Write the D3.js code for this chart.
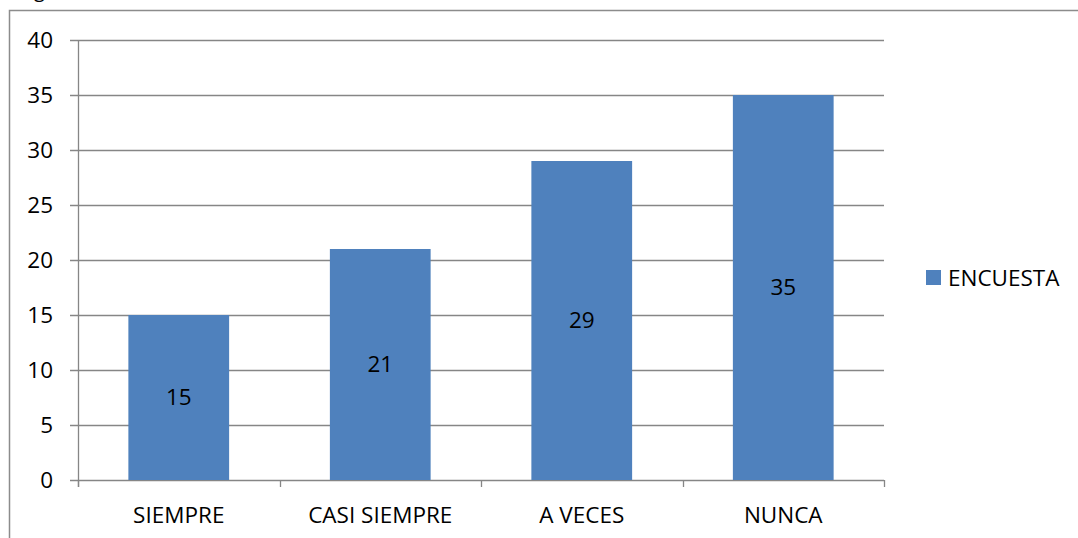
<!DOCTYPE html>
<html>
<head>
<meta charset="utf-8">
<script src="https://cdn.jsdelivr.net/npm/d3@7"></script>
<style>
	body { margin: 0; background: #fff; }
	text { font-family: "Open Sans", "Liberation Sans", sans-serif; fill: #000; }
</style>
</head>
<body>
<svg width="1078" height="538"></svg>
<script>
var categories = ["SIEMPRE", "CASI SIEMPRE", "A VECES", "NUNCA"];
var values = [15, 21, 29, 35];
var yTicks = [0, 5, 10, 15, 20, 25, 30, 35, 40];
var seriesName = "ENCUESTA";

var svg = d3.select("svg"),
	width = +svg.attr("width"),
	height = +svg.attr("height");

var barColor = "#4f81bd",
	gridColor = "#868686",
	fontSize = "22.5px";

// outer chart frame (partly outside the picture)
svg.append("rect")
	.attr("x", 9.5).attr("y", 10.5)
	.attr("width", 1200).attr("height", 600)
	.attr("fill", "none")
	.attr("stroke", "#8c8c8c")
	.attr("stroke-width", 1.5);

// cut glyph above the frame
svg.append("text")
	.attr("x", 34).attr("y", -3)
	.style("font-size", "20px")
	.text("g");

var x = d3.scaleBand()
	.domain(categories)
	.range([78, 884])
	.paddingInner(0.5)
	.paddingOuter(0.25);

var y = d3.scaleLinear()
	.domain([0, 40])
	.range([480, 40]);

// gridlines
svg.append("g")
	.selectAll("line")
	.data(yTicks)
	.enter().append("line")
		.attr("x1", 70).attr("x2", 884)
		.attr("y1", function(d) { return Math.round(y(d)) + 0.5; })
		.attr("y2", function(d) { return Math.round(y(d)) + 0.5; })
		.attr("stroke", gridColor)
		.attr("stroke-width", 1.3);

// y axis line
svg.append("line")
	.attr("x1", 78.5).attr("x2", 78.5)
	.attr("y1", y(40)).attr("y2", 487)
	.attr("stroke", gridColor).attr("stroke-width", 1.3);

// x tick marks at band boundaries
var step = x.step();
var bounds = d3.range(categories.length + 1).map(function(i) { return 78 + i * step; });
svg.append("g")
	.selectAll("line")
	.data(bounds)
	.enter().append("line")
		.attr("x1", function(d) { return Math.round(d) + 0.5; })
		.attr("x2", function(d) { return Math.round(d) + 0.5; })
		.attr("y1", 480).attr("y2", 487)
		.attr("stroke", gridColor).attr("stroke-width", 1.3);

// y tick labels
svg.append("g")
	.selectAll("text")
	.data(yTicks)
	.enter().append("text")
		.attr("x", 53)
		.attr("y", function(d) { return y(d); })
		.attr("dy", "0.35em")
		.attr("text-anchor", "end")
		.style("font-size", fontSize)
		.text(function(d) { return d; });

// bars
svg.append("g")
	.selectAll("rect")
	.data(values)
	.enter().append("rect")
		.attr("x", function(d, i) { return x(categories[i]); })
		.attr("width", x.bandwidth())
		.attr("y", function(d) { return y(d); })
		.attr("height", function(d) { return y(0) - y(d); })
		.attr("fill", barColor);

// data labels
svg.append("g")
	.selectAll("text")
	.data(values)
	.enter().append("text")
		.attr("x", function(d, i) { return x(categories[i]) + x.bandwidth() / 2; })
		.attr("y", function(d) { return (y(d) + y(0)) / 2; })
		.attr("dy", "0.35em")
		.attr("text-anchor", "middle")
		.style("font-size", fontSize)
		.text(function(d) { return d; });

// category labels
svg.append("g")
	.selectAll("text")
	.data(categories)
	.enter().append("text")
		.attr("x", function(d) { return x(d) + x.bandwidth() / 2; })
		.attr("y", 515)
		.attr("dy", "0.35em")
		.attr("text-anchor", "middle")
		.style("font-size", fontSize)
		.text(function(d) { return d; });

// legend
svg.append("rect")
	.attr("x", 926).attr("y", 270)
	.attr("width", 15).attr("height", 15)
	.attr("fill", barColor);
svg.append("text")
	.attr("x", 948).attr("y", 278)
	.attr("dy", "0.35em")
	.style("font-size", fontSize)
	.text(seriesName);
</script>
</body>
</html>
